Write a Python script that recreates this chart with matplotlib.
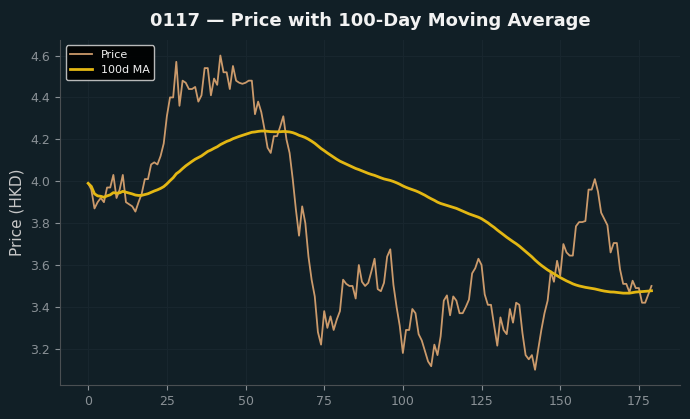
import numpy as np
import pandas as pd
import matplotlib
matplotlib.use("Agg")
import matplotlib.pyplot as plt

ticker = "0117"
window = 100

# daily closing prices (HKD)
price = [
    3.99, 3.96, 3.87, 3.90, 3.92, 3.90, 3.97, 3.97, 4.03, 3.92,
    3.96, 4.03, 3.90, 3.89, 3.88, 3.855, 3.90, 3.94, 4.01, 4.01,
    4.08, 4.09, 4.08, 4.12, 4.18, 4.31, 4.40, 4.40, 4.57, 4.36,
    4.48, 4.47, 4.44, 4.44, 4.45, 4.38, 4.41, 4.54, 4.54, 4.41,
    4.49, 4.46, 4.60, 4.52, 4.52, 4.44, 4.55, 4.48, 4.47, 4.465,
    4.47, 4.48, 4.48, 4.32, 4.38, 4.33, 4.25, 4.16, 4.135, 4.215,
    4.215, 4.26, 4.31, 4.20, 4.135, 4.01, 3.865, 3.74, 3.88, 3.80,
    3.64, 3.53, 3.45, 3.28, 3.22, 3.38, 3.30, 3.355, 3.29, 3.34,
    3.38, 3.53, 3.51, 3.50, 3.50, 3.44, 3.60, 3.52, 3.50, 3.515,
    3.57, 3.63, 3.485, 3.475, 3.515, 3.64, 3.675, 3.505, 3.40, 3.31,
    3.18, 3.29, 3.29, 3.39, 3.37, 3.27, 3.24, 3.19, 3.14, 3.117,
    3.22, 3.17, 3.26, 3.43, 3.455, 3.36, 3.45, 3.43, 3.37, 3.37,
    3.40, 3.435, 3.56, 3.585, 3.63, 3.60, 3.46, 3.41, 3.41, 3.31,
    3.215, 3.35, 3.29, 3.27, 3.39, 3.325, 3.42, 3.41, 3.275, 3.17,
    3.15, 3.17, 3.10, 3.197, 3.29, 3.37, 3.43, 3.57, 3.52, 3.62,
    3.55, 3.70, 3.66, 3.645, 3.645, 3.785, 3.805, 3.805, 3.81, 3.96,
    3.96, 4.01, 3.95, 3.85, 3.82, 3.79, 3.66, 3.705, 3.705, 3.58,
    3.51, 3.51, 3.47, 3.525, 3.49, 3.49, 3.42, 3.42, 3.46, 3.50,
]

days = np.arange(len(price))
ma = pd.Series(price).rolling(window, min_periods=1).mean()

bg = "#111f26"
fig, ax = plt.subplots(figsize=(6.9, 4.19), dpi=100)
fig.patch.set_facecolor(bg)
ax.set_facecolor(bg)

ax.plot(days, price, color="#cb9a6b", lw=1.3, label="Price")
ax.plot(days, ma, color="#e3b713", lw=2.0, label=f"{window}d MA")

ax.set_title(f"{ticker} \u2014 Price with {window}-Day Moving Average",
             color="#f2f2f2", fontsize=13, fontweight="bold", pad=10)
ax.set_ylabel("Price (HKD)", color="#c8c8c8", fontsize=11)

ax.grid(True, color="#18262e", lw=0.8)
ax.tick_params(colors="#8a9196", labelsize=9)
for s in ["top", "right"]:
    ax.spines[s].set_visible(False)
for s in ["left", "bottom"]:
    ax.spines[s].set_color("#4a4f52")

leg = ax.legend(loc="upper left", fontsize=8, facecolor="black",
                edgecolor="#cccccc", framealpha=0.9)
for t in leg.get_texts():
    t.set_color("#f0f0f0")

fig.subplots_adjust(left=0.087, right=0.985, top=0.905, bottom=0.08)
fig.savefig("out.png", facecolor=bg)
